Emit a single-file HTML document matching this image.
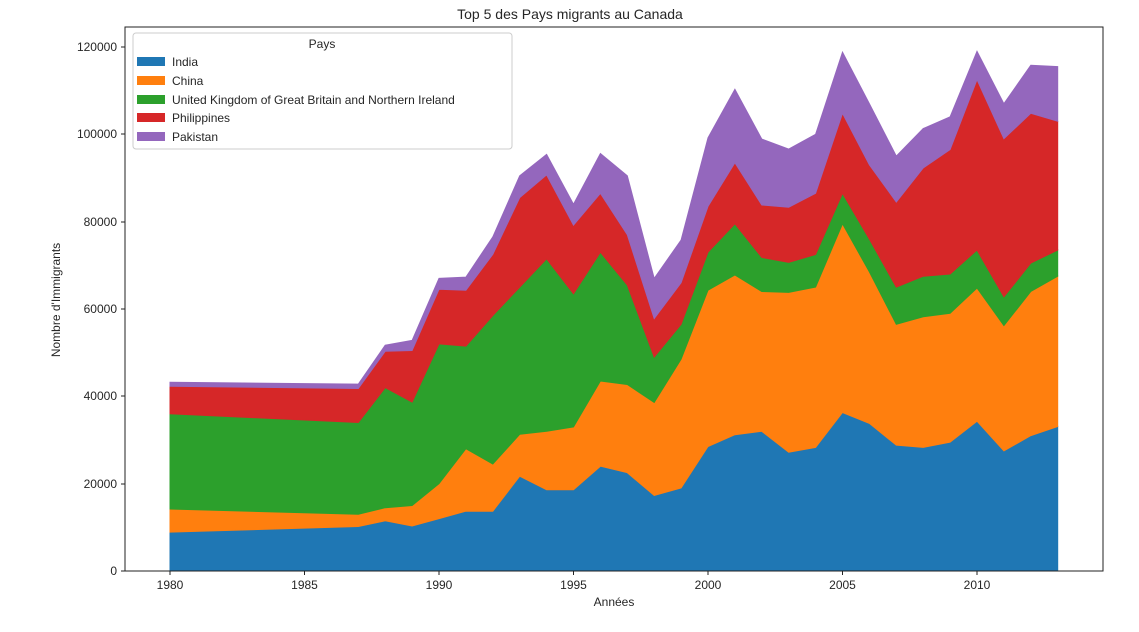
<!DOCTYPE html>
<html><head><meta charset="utf-8"><style>
body{margin:0;background:#fff;}
svg text{font-family:"Liberation Sans","DejaVu Sans",sans-serif;fill:#262626;}
</style></head><body>
<svg id="s" width="1139" height="627" xmlns="http://www.w3.org/2000/svg">
<rect width="1139" height="627" fill="#fff"/>
<g id="areas"></g>
<rect x="125" y="27" width="978" height="544" fill="none" stroke="#222" stroke-width="1"/>
<text x="570" y="19" font-size="14" text-anchor="middle">Top 5 des Pays migrants au Canada</text>
<g font-size="12" text-anchor="end">
<text x="117" y="575">0</text>
<text x="117" y="488">20000</text>
<text x="117" y="400">40000</text>
<text x="117" y="313">60000</text>
<text x="117" y="226">80000</text>
<text x="117" y="138">100000</text>
<text x="117" y="51">120000</text>
</g>
<g stroke="#222"><line x1="121" x2="125" y1="571" y2="571"/><line x1="121" x2="125" y1="484" y2="484"/><line x1="121" x2="125" y1="396" y2="396"/><line x1="121" x2="125" y1="309" y2="309"/><line x1="121" x2="125" y1="222" y2="222"/><line x1="121" x2="125" y1="134" y2="134"/><line x1="121" x2="125" y1="47" y2="47"/>
<line x1="170" x2="170" y1="571" y2="575"/><line x1="304.5" x2="304.5" y1="571" y2="575"/><line x1="439" x2="439" y1="571" y2="575"/><line x1="573.5" x2="573.5" y1="571" y2="575"/><line x1="708" x2="708" y1="571" y2="575"/><line x1="842.5" x2="842.5" y1="571" y2="575"/><line x1="977" x2="977" y1="571" y2="575"/></g>
<g font-size="12" text-anchor="middle">
<text x="170" y="589">1980</text><text x="304.5" y="589">1985</text><text x="439" y="589">1990</text><text x="573.5" y="589">1995</text><text x="708" y="589">2000</text><text x="842.5" y="589">2005</text><text x="977" y="589">2010</text>
</g>
<text x="614" y="606" font-size="12" text-anchor="middle">Années</text>
<text x="0" y="0" font-size="12" text-anchor="middle" transform="translate(60,300) rotate(-90)">Nombre d'Immigrants</text>
<rect x="133" y="33" width="379" height="116" rx="3" fill="#fff" fill-opacity="0.8" stroke="#ccc"/>
<text x="322" y="48" font-size="12" text-anchor="middle">Pays</text>
<rect x="137" y="57" width="28" height="9" fill="#1f77b4"/><text x="172" y="66" font-size="12">India</text>
<rect x="137" y="76" width="28" height="9" fill="#ff7f0e"/><text x="172" y="85" font-size="12">China</text>
<rect x="137" y="95" width="28" height="9" fill="#2ca02c"/><text x="172" y="104" font-size="12">United Kingdom of Great Britain and Northern Ireland</text>
<rect x="137" y="113" width="28" height="9" fill="#d62728"/><text x="172" y="122" font-size="12">Philippines</text>
<rect x="137" y="132" width="28" height="9" fill="#9467bd"/><text x="172" y="141" font-size="12">Pakistan</text>
</svg>
<script>
var d=[[1980,8.9,14.2,36,42.3,43.2],[1987,10.2,13,34,41.8,42.8],[1988,11.5,14.5,42,50.3,51.7],[1989,10.3,15,38.7,50.5,52.8],[1990,12,20,52,64.5,67],[1991,13.7,28,51.5,64.3,67.3],[1992,13.7,24.5,58.5,72.5,76.5],[1993,21.7,31.3,65,85.5,90.5],[1994,18.6,32,71.5,90.7,95.4],[1995,18.6,33,63.5,79.2,84],[1996,24,43.5,73,86.5,95.6],[1997,22.5,42.7,65.5,77,90.5],[1998,17.3,38.6,49,57.8,67],[1999,19,48.5,56.5,66,75.8],[2000,28.5,64.3,73,83.5,99.2],[2001,31.2,67.8,79.5,93.5,110.3],[2002,32,64,71.8,83.8,98.9],[2003,27.2,63.8,70.7,83.3,96.6],[2004,28.3,65,72.5,86.5,100],[2005,36.3,79.5,86.5,104.8,118.8],[2006,33.8,68.5,76,93,107],[2007,28.8,56.5,65,84.5,95],[2008,28.3,58.2,67.5,92.3,101.3],[2009,29.5,59,68,96.5,104],[2010,34.3,64.8,73.5,112.5,119],[2011,27.5,56.2,62.8,99,107],[2012,31,64,70.5,104.8,115.8],[2013,33.1,67.5,73.5,103,115.5]];
var cols=['#1f77b4','#ff7f0e','#2ca02c','#d62728','#9467bd'];
function X(y){return 170+(y-1980)*26.9}function Y(v){return 571-v*4.367}
var g=document.getElementById('areas'),h='';
for(var k=1;k<=5;k++){var p=[];d.forEach(function(r){p.push(X(r[0]).toFixed(1)+','+Y(r[k]).toFixed(1))});
for(var i=d.length-1;i>=0;i--){p.push(X(d[i][0]).toFixed(1)+','+Y(k>1?d[i][k-1]:0).toFixed(1))}
h+='<polygon points="'+p.join(' ')+'" fill="'+cols[k-1]+'" stroke="'+cols[k-1]+'" stroke-width="1"/>';}
g.innerHTML=h;
</script>
</body></html>
